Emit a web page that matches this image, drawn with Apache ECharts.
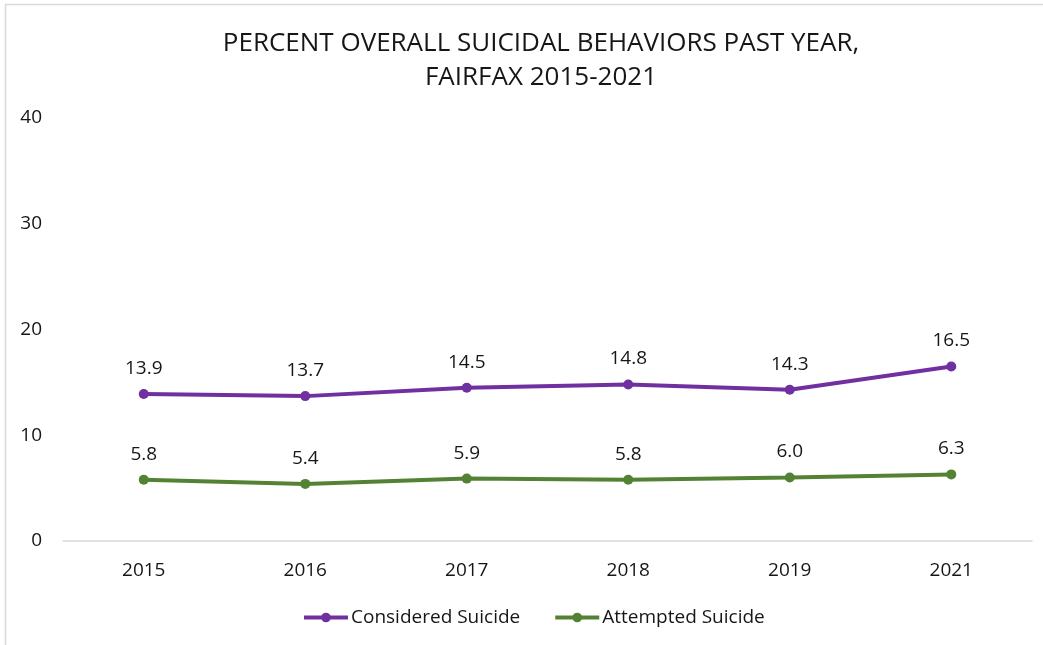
<!DOCTYPE html>
<html>
<head>
<meta charset="utf-8">
<script src="https://cdn.jsdelivr.net/npm/echarts@6/dist/echarts.min.js"></script>
<style>
  html, body { margin: 0; padding: 0; background: #fff; }
  #chart { width: 1043px; height: 645px; }
</style>
</head>
<body>
<div id="chart"></div>
<script>
const years = ['2015', '2016', '2017', '2018', '2019', '2021'];
const considered = [13.9, 13.7, 14.5, 14.8, 14.3, 16.5];
const attempted = [5.8, 5.4, 5.9, 5.8, 6.0, 6.3];
const yTicks = [0, 10, 20, 30, 40];

const FONT = '"Open Sans", "Noto Sans", sans-serif';
const INK = '#161616';
const chart = echarts.init(document.getElementById('chart'));

const labelStyle = {
  show: true,
  position: 'top',
  distance: 11,
  color: INK,
  fontFamily: FONT,
  fontSize: 19,
  formatter: p => p.value.toFixed(1)
};

chart.setOption({
  animation: false,
  backgroundColor: '#fff',
  textStyle: { fontFamily: FONT },
  title: {
    text: 'PERCENT OVERALL SUICIDAL BEHAVIORS PAST YEAR,\nFAIRFAX 2015-2021',
    left: 536,
    top: 22,
    textAlign: 'center',
    textStyle: {
      fontFamily: FONT,
      fontSize: 26,
      fontWeight: 'normal',
      color: INK,
      lineHeight: 34,
      align: 'center'
    }
  },
  graphic: [{
    type: 'rect',
    shape: { x: 5.5, y: 4.5, width: 1200, height: 800 },
    style: { fill: 'none', stroke: '#d9d9d9', lineWidth: 1.5 },
    silent: true
  }],
  grid: { left: 63, right: 11, top: 118, bottom: 104 },
  legend: {
    bottom: 13,
    left: 297,
    itemWidth: 44,
    itemHeight: 12,
    itemGap: 33,
    lineStyle: { width: 4 },
    textStyle: { fontFamily: FONT, fontSize: 19, color: INK, padding: [0, 0, 0, -2] },
    data: ['Considered Suicide', 'Attempted Suicide']
  },
  xAxis: {
    type: 'category',
    data: years,
    boundaryGap: true,
    axisLine: { lineStyle: { color: '#d9d9d9', width: 1.5 } },
    axisTick: { show: false },
    axisLabel: { color: INK, fontFamily: FONT, fontSize: 19, margin: 20 }
  },
  yAxis: {
    type: 'value',
    min: yTicks[0],
    max: yTicks[yTicks.length - 1],
    interval: 10,
    splitLine: { show: false },
    axisLine: { show: false },
    axisTick: { show: false },
    axisLabel: { color: INK, fontFamily: FONT, fontSize: 19, margin: 21 }
  },
  series: [
    {
      name: 'Considered Suicide',
      type: 'line',
      data: considered,
      color: '#7030a0',
      symbol: 'circle',
      symbolSize: 10,
      lineStyle: { width: 4 },
      label: labelStyle
    },
    {
      name: 'Attempted Suicide',
      type: 'line',
      data: attempted,
      color: '#548235',
      symbol: 'circle',
      symbolSize: 10,
      lineStyle: { width: 4 },
      label: labelStyle
    }
  ]
});
</script>
</body>
</html>
